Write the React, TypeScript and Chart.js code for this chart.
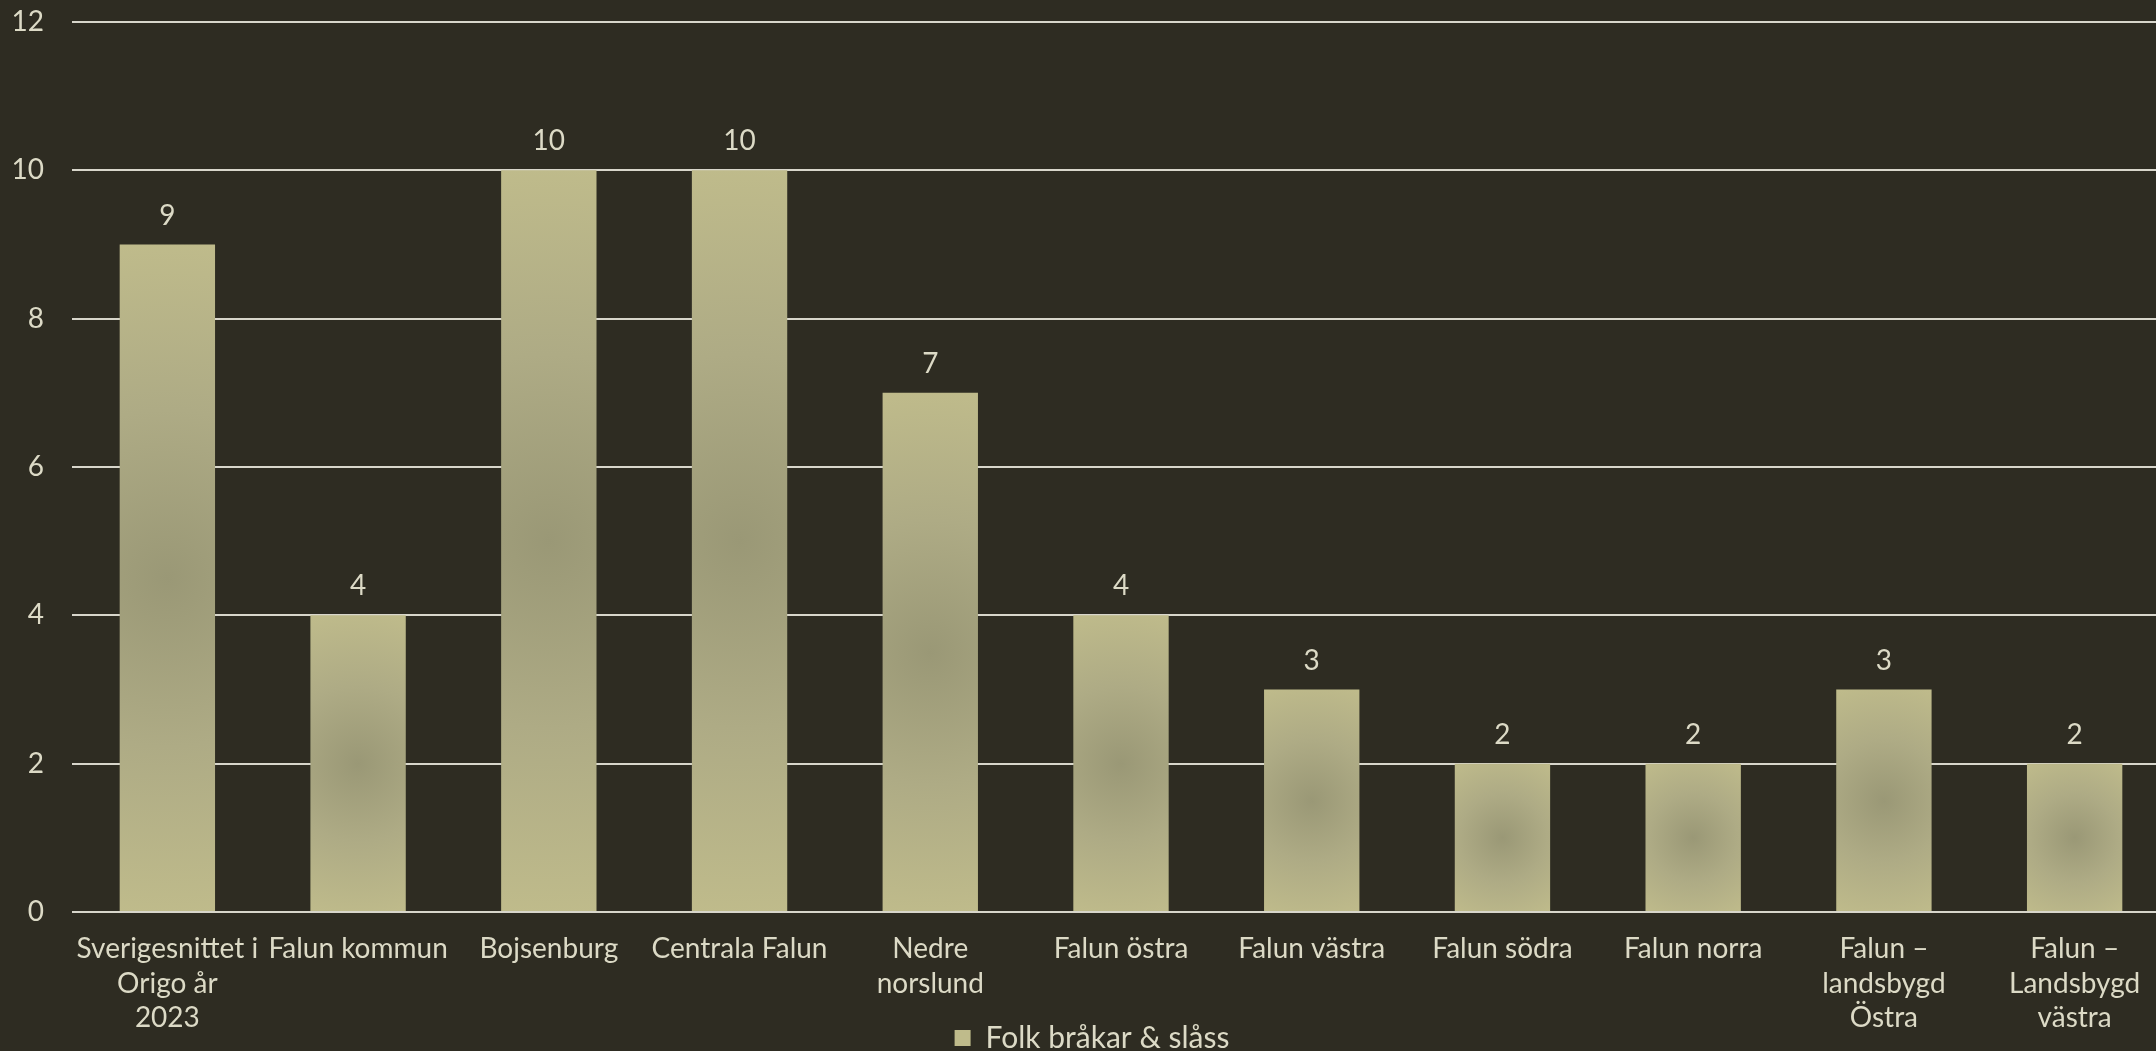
import React, { useEffect, useRef } from "react";
import { Chart, registerables } from "chart.js";

Chart.register(...registerables);

const categories: (string | string[])[] = [
  ["Sverigesnittet i", "Origo år", "2023"],
  "Falun kommun",
  "Bojsenburg",
  "Centrala Falun",
  ["Nedre", "norslund"],
  "Falun östra",
  "Falun västra",
  "Falun södra",
  "Falun norra",
  ["Falun –", "landsbygd", "Östra"],
  ["Falun –", "Landsbygd", "västra"],
];

const seriesName = "Folk bråkar & slåss";
const values = [9, 4, 10, 10, 7, 4, 3, 2, 2, 3, 2];

const yMin = 0;
const yMax = 12;
const yStep = 2;

const BG = "#2e2c22";
const TEXT = "#dcdac6";
const GRID = "#d8d6cb";
const FONT = "Lato, 'Open Sans', sans-serif";
const SOLID = "#b4b188";

const dataLabelPlugin = {
  id: "dataLabels",
  afterLayout(chart: any) {
    // let the x-axis labels run past the (shortened) axis box
    if (chart.scales.x) chart.scales.x.bottom = chart.height;
  },
  afterDatasetsDraw(chart: any) {
    const ctx = chart.ctx;
    const meta = chart.getDatasetMeta(0);
    ctx.save();
    ctx.fillStyle = TEXT;
    ctx.font = `28px ${FONT}`;
    ctx.textAlign = "center";
    ctx.textBaseline = "middle";
    meta.data.forEach((el: any, i: number) => {
      ctx.fillText(String(values[i]), el.x, el.y - 29);
    });
    ctx.restore();
  },
};

export default function App() {
  const ref = useRef<HTMLCanvasElement | null>(null);

  useEffect(() => {
    document.body.style.background = BG;
    const canvas = ref.current!;
    const chart = new Chart(canvas, {
      type: "bar",
      data: {
        labels: categories,
        datasets: [
          {
            label: seriesName,
            data: values,
            backgroundColor: (context: any) => {
              if (context.type !== "data") return SOLID;
              const c = context.chart;
              const xs = c.scales && c.scales.x;
              const ys = c.scales && c.scales.y;
              if (!xs || !ys) return SOLID;
              const cx = xs.getPixelForValue(context.dataIndex);
              const yTop = ys.getPixelForValue(context.raw);
              const yBot = ys.getPixelForValue(0);
              const cw = xs.getPixelForValue(1) - xs.getPixelForValue(0);
              if (![cx, yTop, yBot, cw].every((v) => Number.isFinite(v))) return SOLID;
              const cy = (yTop + yBot) / 2;
              const hw = Math.abs(cw) / 4;
              const hh = Math.abs(yBot - yTop) / 2;
              const r = Math.max(Math.sqrt(hw * hw + hh * hh), 1);
              const g = c.ctx.createRadialGradient(cx, cy, 0, cx, cy, r);
              g.addColorStop(0, "#9a9876");
              g.addColorStop(0.5, "#aeab85");
              g.addColorStop(1, "#bfbb8b");
              return g;
            },
            borderWidth: 0,
            barPercentage: 0.5,
            categoryPercentage: 1,
          },
        ],
      },
      options: {
        responsive: false,
        animation: false,
        devicePixelRatio: 1,
        layout: { padding: { left: 14, right: 30, top: 0, bottom: -12 } },
        plugins: {
          tooltip: { enabled: false },
          legend: {
            position: "bottom",
            labels: {
              color: TEXT,
              font: { family: FONT, size: 30 },
              boxWidth: 16,
              boxHeight: 16,
              padding: 4,
            },
          },
        },
        scales: {
          x: {
            grid: { display: false, drawTicks: false },
            border: { display: false },
            ticks: {
              color: TEXT,
              font: { family: FONT, size: 28, lineHeight: 1.23 },
              padding: 20,
              maxRotation: 0,
              autoSkip: false,
            },
            afterFit: (scale: any) => {
              scale.height = 107;
            },
          },
          y: {
            min: yMin,
            max: yMax,
            grid: { color: GRID, lineWidth: 2, drawTicks: false },
            border: { display: false },
            ticks: {
              stepSize: yStep,
              color: TEXT,
              font: { family: FONT, size: 28 },
              padding: 28,
            },
            afterFit: (scale: any) => {
              scale.width = 58;
              scale.paddingTop = 22;
            },
          },
        },
      },
      plugins: [dataLabelPlugin],
    });
    chart.update();
    return () => chart.destroy();
  }, []);

  return (
    <div
      style={{
        position: "fixed",
        left: 0,
        top: 0,
        width: 2156,
        height: 1051,
        overflow: "hidden",
        background: BG,
      }}
    >
      <canvas ref={ref} width={2200} height={1051} style={{ display: "block" }} />
    </div>
  );
}
